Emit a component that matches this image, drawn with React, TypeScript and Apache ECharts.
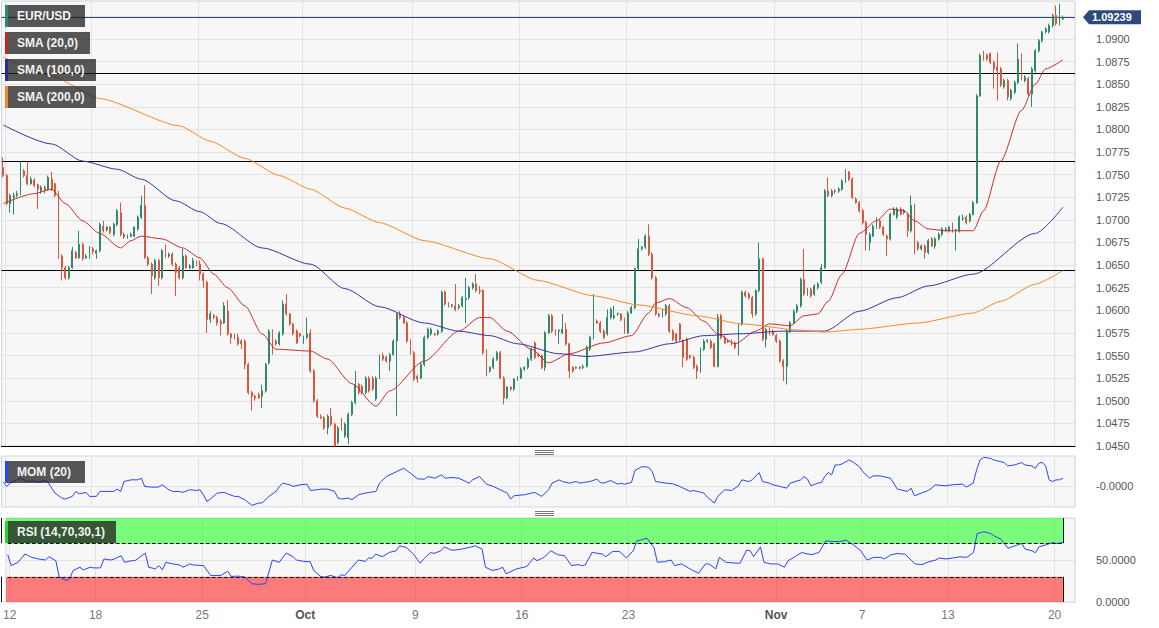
import React, { useEffect, useRef } from "react";
import * as echarts from "echarts";

// EUR/USD 4H candles: [open, close, low, high]
const eurusdOhlc: number[][] = [
  [1.0758, 1.0749, 1.0747, 1.0769], [1.0749, 1.0718, 1.0716, 1.0751], [1.0718, 1.0727, 1.0708, 1.0729], [1.0725, 1.0727, 1.0706, 1.073],
  [1.0727, 1.0729, 1.0725, 1.0732], [1.0729, 1.0754, 1.0727, 1.0764], [1.0754, 1.0749, 1.0747, 1.0756], [1.0749, 1.074, 1.0738, 1.0764],
  [1.074, 1.0745, 1.0739, 1.0748], [1.0744, 1.0738, 1.0736, 1.0746], [1.0739, 1.0734, 1.0712, 1.074], [1.0732, 1.0736, 1.0729, 1.0738],
  [1.0736, 1.0733, 1.0729, 1.0738], [1.0734, 1.0747, 1.0732, 1.0749], [1.0745, 1.0734, 1.0732, 1.0753], [1.074, 1.0727, 1.0725, 1.0741],
  [1.073, 1.0658, 1.0657, 1.0732], [1.066, 1.0647, 1.0633, 1.0662], [1.0647, 1.0636, 1.0634, 1.0649], [1.0636, 1.0647, 1.0634, 1.0649],
  [1.0647, 1.0666, 1.0646, 1.067], [1.0664, 1.0658, 1.0657, 1.0666], [1.0658, 1.0673, 1.0657, 1.0688], [1.0673, 1.0657, 1.0655, 1.0675],
  [1.0658, 1.066, 1.0657, 1.0662], [1.0658, 1.067, 1.0657, 1.0671], [1.0668, 1.0665, 1.0662, 1.067], [1.0663, 1.0666, 1.0657, 1.0667],
  [1.0666, 1.0695, 1.0664, 1.0697], [1.0693, 1.0688, 1.0686, 1.0699], [1.0689, 1.0692, 1.0687, 1.0693], [1.0692, 1.0686, 1.0684, 1.0693],
  [1.0684, 1.0695, 1.0682, 1.0697], [1.0695, 1.071, 1.0693, 1.0712], [1.0708, 1.0684, 1.0682, 1.0719], [1.0684, 1.0681, 1.0679, 1.0686],
  [1.0681, 1.0682, 1.0679, 1.0684], [1.0682, 1.0684, 1.0681, 1.0686], [1.0682, 1.0692, 1.0681, 1.0693], [1.069, 1.0703, 1.0688, 1.0705],
  [1.0703, 1.0716, 1.0701, 1.0727], [1.0716, 1.0658, 1.0657, 1.0738], [1.0658, 1.0651, 1.0649, 1.066], [1.0651, 1.0638, 1.0618, 1.0653],
  [1.0636, 1.0655, 1.0634, 1.0657], [1.0655, 1.0636, 1.0627, 1.0657], [1.0636, 1.0666, 1.0634, 1.0668], [1.0664, 1.066, 1.0658, 1.0673],
  [1.066, 1.0662, 1.0658, 1.0664], [1.0662, 1.0651, 1.0649, 1.0664], [1.0651, 1.0642, 1.0616, 1.0653], [1.0647, 1.0636, 1.0634, 1.0649],
  [1.0636, 1.066, 1.0634, 1.0668], [1.066, 1.0647, 1.0646, 1.0662], [1.0647, 1.0649, 1.0646, 1.0651], [1.0647, 1.0655, 1.0646, 1.0658],
  [1.0653, 1.0651, 1.0649, 1.0655], [1.0651, 1.064, 1.0633, 1.0655], [1.064, 1.0633, 1.0625, 1.0642], [1.0631, 1.059, 1.0575, 1.0633],
  [1.059, 1.0596, 1.0586, 1.0599], [1.0594, 1.0592, 1.059, 1.0596], [1.0592, 1.0586, 1.0583, 1.0594], [1.0588, 1.0585, 1.0572, 1.059],
  [1.0586, 1.0605, 1.0585, 1.0609], [1.0599, 1.0574, 1.0572, 1.0611], [1.0574, 1.057, 1.0563, 1.0575], [1.057, 1.0572, 1.0568, 1.0574],
  [1.057, 1.0563, 1.0561, 1.0574], [1.0566, 1.0563, 1.0557, 1.0568], [1.0566, 1.054, 1.0535, 1.0568], [1.054, 1.0509, 1.0507, 1.0542],
  [1.0509, 1.0505, 1.0489, 1.0511], [1.0505, 1.0503, 1.05, 1.0507], [1.0507, 1.0503, 1.0502, 1.0509], [1.0505, 1.0511, 1.0492, 1.0518],
  [1.0511, 1.054, 1.0509, 1.0542], [1.0542, 1.0577, 1.054, 1.0579], [1.0577, 1.0553, 1.0551, 1.0579], [1.0566, 1.0563, 1.0561, 1.0568],
  [1.0563, 1.0575, 1.0561, 1.0577], [1.0574, 1.0607, 1.0572, 1.0611], [1.0607, 1.0596, 1.0594, 1.0618], [1.0596, 1.0585, 1.0583, 1.0597],
  [1.0585, 1.0574, 1.0572, 1.0586], [1.0577, 1.0564, 1.0563, 1.0579], [1.0574, 1.0572, 1.057, 1.0575], [1.0564, 1.057, 1.0563, 1.0572],
  [1.057, 1.0574, 1.0568, 1.0592], [1.0575, 1.0533, 1.0531, 1.0579], [1.0533, 1.05, 1.0498, 1.0535], [1.05, 1.0483, 1.0481, 1.0502],
  [1.0482, 1.0481, 1.048, 1.0485], [1.0481, 1.047, 1.0468, 1.0483], [1.047, 1.0483, 1.0463, 1.0485], [1.0483, 1.0474, 1.0472, 1.0492],
  [1.0474, 1.045, 1.0449, 1.0476], [1.0454, 1.047, 1.0452, 1.0472], [1.0472, 1.0468, 1.0467, 1.0481], [1.0461, 1.0474, 1.0459, 1.0476],
  [1.0459, 1.0485, 1.0452, 1.0487], [1.0485, 1.0498, 1.0483, 1.05], [1.0498, 1.0518, 1.0496, 1.0533], [1.0518, 1.0509, 1.0507, 1.052],
  [1.0516, 1.0509, 1.0507, 1.0518], [1.0509, 1.0525, 1.0507, 1.0527], [1.0525, 1.0511, 1.0509, 1.0527], [1.0525, 1.0513, 1.0511, 1.0527],
  [1.0502, 1.0525, 1.05, 1.0527], [1.0525, 1.055, 1.0524, 1.0551], [1.055, 1.0546, 1.0544, 1.0553], [1.0548, 1.0544, 1.0542, 1.055],
  [1.0544, 1.0551, 1.0533, 1.0553], [1.0551, 1.0566, 1.055, 1.0568], [1.0566, 1.0596, 1.0483, 1.0597], [1.0596, 1.0592, 1.059, 1.0599],
  [1.0592, 1.0586, 1.0585, 1.0594], [1.0586, 1.0566, 1.0564, 1.0588], [1.0566, 1.0553, 1.0551, 1.0568], [1.0553, 1.0524, 1.0522, 1.0555],
  [1.0527, 1.0524, 1.052, 1.0529], [1.0525, 1.054, 1.0524, 1.0542], [1.054, 1.057, 1.0538, 1.0572], [1.057, 1.0579, 1.0568, 1.0581],
  [1.0574, 1.0579, 1.0572, 1.0581], [1.0574, 1.0573, 1.0572, 1.0575], [1.0574, 1.0577, 1.0572, 1.0579], [1.0577, 1.062, 1.0575, 1.0622],
  [1.062, 1.0607, 1.0605, 1.0622], [1.0607, 1.0605, 1.0603, 1.0609], [1.0605, 1.0606, 1.0603, 1.0607], [1.0605, 1.0601, 1.0599, 1.0629],
  [1.0603, 1.0605, 1.0601, 1.0607], [1.0605, 1.0614, 1.0603, 1.0616], [1.0612, 1.0613, 1.0586, 1.0636], [1.0614, 1.0625, 1.0612, 1.0627],
  [1.0625, 1.0629, 1.0623, 1.0631], [1.0629, 1.0622, 1.062, 1.064], [1.0622, 1.0621, 1.0618, 1.0627], [1.0622, 1.0553, 1.0551, 1.0623],
  [1.0555, 1.0533, 1.0527, 1.0557], [1.0533, 1.0537, 1.0531, 1.0538], [1.0537, 1.0546, 1.0535, 1.0548], [1.0546, 1.0553, 1.0544, 1.0555],
  [1.0553, 1.0525, 1.0524, 1.0555], [1.0525, 1.0503, 1.0496, 1.0527], [1.0503, 1.0515, 1.0502, 1.0516], [1.0515, 1.0513, 1.0511, 1.0516],
  [1.0513, 1.0524, 1.0511, 1.0525], [1.0524, 1.0525, 1.0522, 1.0527], [1.0525, 1.0535, 1.0524, 1.0537], [1.0535, 1.0537, 1.0533, 1.0538],
  [1.0537, 1.0546, 1.0535, 1.0548], [1.0546, 1.0557, 1.0544, 1.0559], [1.0564, 1.0548, 1.0546, 1.0566], [1.0551, 1.055, 1.0548, 1.0553],
  [1.055, 1.0537, 1.0535, 1.0551], [1.0537, 1.0575, 1.0533, 1.0577], [1.0575, 1.0594, 1.0574, 1.0596], [1.0594, 1.0577, 1.0575, 1.0596],
  [1.0577, 1.0574, 1.0572, 1.0579], [1.0577, 1.0578, 1.0563, 1.0579], [1.0575, 1.0579, 1.0574, 1.0596], [1.0579, 1.0563, 1.0561, 1.0586],
  [1.0563, 1.0533, 1.0525, 1.0564], [1.0537, 1.0533, 1.0531, 1.0538], [1.0537, 1.0536, 1.0535, 1.0538], [1.0536, 1.0537, 1.0535, 1.0538],
  [1.0537, 1.0538, 1.0535, 1.054], [1.0538, 1.0559, 1.0537, 1.0561], [1.0557, 1.057, 1.0555, 1.0572], [1.057, 1.0588, 1.0568, 1.0618],
  [1.0588, 1.0586, 1.0585, 1.059], [1.0586, 1.0577, 1.0575, 1.0588], [1.0577, 1.057, 1.0568, 1.0579], [1.0574, 1.0592, 1.0572, 1.0601],
  [1.0592, 1.0601, 1.059, 1.0603], [1.0592, 1.0594, 1.059, 1.0605], [1.0596, 1.0597, 1.0594, 1.0597], [1.0596, 1.059, 1.0588, 1.0597],
  [1.059, 1.0575, 1.0574, 1.0592], [1.0575, 1.0597, 1.0574, 1.0599], [1.0597, 1.0603, 1.0596, 1.0605], [1.0603, 1.0646, 1.0601, 1.0647],
  [1.0646, 1.0668, 1.0644, 1.0679], [1.0668, 1.067, 1.0666, 1.0671], [1.067, 1.0682, 1.0668, 1.0684], [1.0682, 1.0662, 1.066, 1.0695],
  [1.0662, 1.0636, 1.0634, 1.0664], [1.0636, 1.0596, 1.0594, 1.0638], [1.0596, 1.0594, 1.0592, 1.0597], [1.0594, 1.0599, 1.0592, 1.0601],
  [1.0596, 1.0605, 1.0594, 1.0607], [1.0605, 1.0577, 1.0575, 1.0607], [1.0577, 1.0568, 1.0566, 1.0579], [1.0574, 1.0566, 1.0564, 1.0575],
  [1.0585, 1.0568, 1.0566, 1.0586], [1.0566, 1.0548, 1.0537, 1.0568], [1.0568, 1.0546, 1.0544, 1.057], [1.055, 1.0548, 1.0546, 1.0551],
  [1.0548, 1.0537, 1.0535, 1.055], [1.0538, 1.0533, 1.0524, 1.054], [1.0533, 1.0557, 1.0531, 1.0559], [1.0557, 1.0566, 1.0555, 1.0568],
  [1.0566, 1.0567, 1.0564, 1.0568], [1.0566, 1.0559, 1.0557, 1.0568], [1.0563, 1.0538, 1.0537, 1.0564], [1.0538, 1.0592, 1.0537, 1.0596],
  [1.0594, 1.057, 1.0568, 1.0596], [1.057, 1.0564, 1.0563, 1.0572], [1.0566, 1.0565, 1.0564, 1.0568], [1.0566, 1.0563, 1.0561, 1.0568],
  [1.0564, 1.0559, 1.0557, 1.0566], [1.0557, 1.0585, 1.055, 1.0586], [1.0585, 1.062, 1.0583, 1.0622], [1.062, 1.0616, 1.0614, 1.0622],
  [1.0618, 1.0614, 1.0612, 1.062], [1.0614, 1.0596, 1.0592, 1.0616], [1.0596, 1.0622, 1.0594, 1.0623], [1.0622, 1.0657, 1.062, 1.0675],
  [1.0657, 1.0568, 1.0566, 1.0658], [1.0568, 1.0579, 1.0559, 1.0581], [1.0579, 1.0574, 1.0572, 1.0581], [1.0577, 1.0573, 1.0572, 1.0579],
  [1.0572, 1.0566, 1.0564, 1.0574], [1.0566, 1.0544, 1.0542, 1.0568], [1.0544, 1.0538, 1.0522, 1.0546], [1.0538, 1.0577, 1.0518, 1.0579],
  [1.0577, 1.0586, 1.0575, 1.0588], [1.0586, 1.0599, 1.0585, 1.0601], [1.0599, 1.0605, 1.0597, 1.0607], [1.0605, 1.0634, 1.0603, 1.0636],
  [1.0634, 1.0618, 1.0616, 1.0668], [1.0618, 1.0623, 1.0616, 1.0625], [1.0623, 1.0616, 1.0614, 1.0625], [1.0618, 1.0627, 1.0616, 1.0629],
  [1.0625, 1.0629, 1.0623, 1.0631], [1.0631, 1.0647, 1.0629, 1.0651], [1.0647, 1.0732, 1.0646, 1.0734], [1.0732, 1.0727, 1.0725, 1.0747],
  [1.0727, 1.0732, 1.0725, 1.0734], [1.0732, 1.0731, 1.0729, 1.0734], [1.0732, 1.0734, 1.073, 1.0736], [1.0734, 1.0743, 1.0732, 1.0745],
  [1.0743, 1.0753, 1.0741, 1.0756], [1.0753, 1.0745, 1.0743, 1.0754], [1.0745, 1.0725, 1.0723, 1.0747], [1.0723, 1.0719, 1.0718, 1.0725],
  [1.0719, 1.071, 1.0708, 1.0721], [1.071, 1.0697, 1.0695, 1.0712], [1.0697, 1.0684, 1.0666, 1.0699], [1.0675, 1.0684, 1.0666, 1.0686],
  [1.0682, 1.0693, 1.0681, 1.0695], [1.0692, 1.0701, 1.069, 1.0703], [1.0699, 1.0692, 1.069, 1.0701], [1.0692, 1.0684, 1.0682, 1.0693],
  [1.0682, 1.0679, 1.066, 1.0684], [1.0679, 1.0706, 1.0677, 1.0708], [1.0706, 1.0712, 1.0705, 1.0714], [1.0703, 1.0712, 1.0701, 1.0714],
  [1.0712, 1.0706, 1.0705, 1.0714], [1.0708, 1.071, 1.0706, 1.0712], [1.0706, 1.0688, 1.0681, 1.0708], [1.0688, 1.0716, 1.0686, 1.0727],
  [1.0716, 1.0668, 1.0662, 1.0718], [1.0675, 1.0668, 1.0666, 1.0677], [1.0668, 1.0671, 1.0666, 1.0673], [1.0671, 1.0664, 1.0657, 1.0673],
  [1.0664, 1.0677, 1.0662, 1.0679], [1.0679, 1.0671, 1.067, 1.0681], [1.0671, 1.0679, 1.0668, 1.0681], [1.0679, 1.0684, 1.0677, 1.0686],
  [1.0684, 1.069, 1.0682, 1.0692], [1.0689, 1.069, 1.0687, 1.0692], [1.0688, 1.0692, 1.0686, 1.0693], [1.0692, 1.0688, 1.0686, 1.0697],
  [1.0688, 1.0689, 1.0666, 1.069], [1.0688, 1.0703, 1.0686, 1.0705], [1.0701, 1.0702, 1.0699, 1.0706], [1.0703, 1.0697, 1.0695, 1.0705],
  [1.0699, 1.0706, 1.0697, 1.0708], [1.0706, 1.0719, 1.0705, 1.0721], [1.0719, 1.0837, 1.0718, 1.0839], [1.0837, 1.0882, 1.0836, 1.0884],
  [1.0882, 1.0878, 1.0876, 1.0887], [1.0882, 1.0878, 1.0876, 1.0884], [1.0884, 1.0874, 1.0872, 1.0885], [1.0874, 1.0867, 1.0845, 1.0876],
  [1.0869, 1.0865, 1.0832, 1.0885], [1.0867, 1.0849, 1.0847, 1.0869], [1.0847, 1.0854, 1.0845, 1.0856], [1.0854, 1.0836, 1.0832, 1.0856],
  [1.0834, 1.0843, 1.0832, 1.0845], [1.0841, 1.0852, 1.0839, 1.0854], [1.0852, 1.0878, 1.085, 1.0895], [1.0878, 1.0856, 1.0854, 1.0884],
  [1.0854, 1.0858, 1.0852, 1.086], [1.0856, 1.0839, 1.0837, 1.0858], [1.0839, 1.0867, 1.0825, 1.0869], [1.0865, 1.0887, 1.0863, 1.0889],
  [1.0887, 1.0898, 1.0885, 1.09], [1.0898, 1.0908, 1.0896, 1.0909], [1.0908, 1.0911, 1.0906, 1.0913], [1.0908, 1.0915, 1.0906, 1.0917],
  [1.0915, 1.0926, 1.0913, 1.0928], [1.0926, 1.0917, 1.0915, 1.0937], [1.0917, 1.0922, 1.0915, 1.0939], [1.0922, 1.09239, 1.0921, 1.0926],
];

// [candle index, value]
const sma20: number[][] = [
  [0, 1.0718], [9, 1.0729], [14, 1.0734], [18, 1.0718], [23, 1.0699], [28, 1.0685], [34, 1.0669], [37, 1.0677], [40, 1.0682],
  [46, 1.0679], [52, 1.0669], [57, 1.0658], [61, 1.064], [65, 1.0625], [70, 1.0605], [75, 1.0574], [79, 1.0557], [89, 1.0555],
  [94, 1.0546], [101, 1.0519], [108, 1.0494], [112, 1.0511], [122, 1.0544], [132, 1.0577], [138, 1.0592], [141, 1.0592],
  [146, 1.0577], [153, 1.0557], [158, 1.0542], [164, 1.0552], [174, 1.0564], [182, 1.0572], [187, 1.0597], [189, 1.0608],
  [193, 1.0613], [198, 1.0603], [203, 1.0588], [207, 1.0574], [212, 1.0563], [218, 1.0577], [222, 1.0585], [228, 1.0583],
  [232, 1.0594], [236, 1.0596], [239, 1.061], [243, 1.064], [248, 1.0685], [253, 1.0699], [257, 1.0712], [261, 1.071],
  [264, 1.0699], [268, 1.069], [273, 1.0688], [281, 1.0688], [284, 1.071], [289, 1.0765], [295, 1.0821], [299, 1.085],
  [302, 1.0867], [307, 1.0877],
];
const sma100: number[][] = [
  [0, 1.0805], [14, 1.0784], [23, 1.0765], [33, 1.0756], [40, 1.0745], [50, 1.0721], [57, 1.0709], [63, 1.0696], [75, 1.0669],
  [89, 1.0651], [99, 1.0624], [109, 1.0604], [122, 1.0586], [132, 1.0577], [141, 1.0572], [149, 1.0563], [161, 1.0552],
  [169, 1.0549], [183, 1.0554], [193, 1.0563], [203, 1.0572], [213, 1.0574], [226, 1.0577], [238, 1.0577], [248, 1.0599],
  [259, 1.0614], [268, 1.0627], [281, 1.064], [299, 1.0685], [307, 1.0714],
];
const sma200: number[][] = [
  [0, 1.088], [14, 1.0859], [28, 1.0834], [51, 1.0804], [60, 1.0787], [70, 1.0768], [80, 1.0749], [89, 1.0734], [99, 1.0713],
  [109, 1.0697], [122, 1.0677], [141, 1.0657], [155, 1.0633], [171, 1.0616], [184, 1.0606], [201, 1.0594], [214, 1.0585],
  [231, 1.0578], [238, 1.0576], [248, 1.0579], [265, 1.0586], [281, 1.0597], [289, 1.061], [299, 1.0629], [307, 1.0644],
];
const momentum20: number[][] = [
  [0, 0.0022], [1, -0.0004], [2, 0.0016], [4, 0.0036], [5, 0.0046], [7, 0.0026], [9, 0.003], [10, 0.0022], [12, 0.0032], [13, 0.002],
  [15, -0.0044], [17, -0.0074], [18, -0.008], [20, -0.0064], [21, -0.0034], [22, -0.0048], [24, -0.004], [25, -0.0064], [27, -0.0064],
  [28, -0.0034], [30, -0.0034], [32, -0.0034], [33, -0.002], [34, -0.0034], [35, 0.0026], [37, 0.0036], [39, 0.0036], [40, 0.0046],
  [41, -0.0004], [43, -0.0008], [45, -0.0008], [46, 0.0006], [48, -0.0024], [49, -0.0034], [51, -0.0034], [52, -0.004], [54, -0.0024],
  [56, -0.0028], [57, -0.0024], [58, -0.0054], [59, -0.0094], [60, -0.008], [62, -0.0044], [64, -0.004], [65, -0.0048], [67, -0.0064],
  [68, -0.0064], [70, -0.0084], [72, -0.0118], [74, -0.0104], [75, -0.0104], [77, -0.0064], [79, -0.0034], [80, -0.0004], [81, 0.0016],
  [83, 0.0006], [84, -0.0004], [86, 0.0006], [88, 0.001], [89, -0.0028], [91, -0.0024], [92, -0.002], [94, -0.002], [96, -0.0034],
  [97, -0.0074], [98, -0.008], [100, -0.0074], [101, -0.0084], [103, -0.0054], [104, -0.0048], [106, -0.004], [108, -0.0034],
  [109, 0.0016], [111, 0.0056], [114, 0.0086], [116, 0.0106], [118, 0.0076], [120, 0.0042], [122, 0.004], [123, 0.0056], [125, 0.0046],
  [127, 0.0066], [128, 0.0046], [130, 0.005], [132, 0.0046], [135, 0.0016], [136, 0.0036], [138, 0.0056], [140, 0.001], [142, -0.0004],
  [144, -0.0024], [146, -0.0044], [147, -0.008], [148, -0.006], [151, -0.0054], [153, -0.0044], [154, -0.004], [156, -0.0064],
  [158, -0.0024], [159, 0.0016], [161, 0.0036], [162, 0.0026], [164, 0.0016], [166, 0.0026], [167, 0.0016], [168, 0.002], [170, 0.0026],
  [172, 0.004], [173, 0.002], [174, 0.0016], [176, 0.0032], [178, 0.001], [179, 0.0016], [180, 0.001], [182, 0.002], [183, 0.0092],
  [185, 0.0116], [187, 0.0112], [188, 0.0086], [189, 0.0026], [192, 0.0016], [194, 0.0012], [196, -0.0004], [199, -0.0034],
  [200, -0.0028], [203, -0.0044], [204, -0.0068], [206, -0.0104], [207, -0.0064], [209, -0.0024], [211, -0.0028], [213, 0],
  [214, 0.0036], [216, 0.0026], [217, 0.0036], [219, 0.008], [220, 0.0026], [222, 0.0016], [223, 0.0006], [225, -0.0004],
  [227, -0.0014], [228, 0.0016], [231, 0.0036], [232, 0.0056], [233, 0.004], [234, 0], [236, 0.0016], [237, 0.002], [238, 0.0056],
  [239, 0.008], [240, 0.0066], [241, 0.0126], [242, 0.0126], [243, 0.0132], [245, 0.0156], [246, 0.0146], [248, 0.0116], [249, 0.0086],
  [251, 0.0046], [252, 0.006], [254, 0.006], [257, 0.0046], [258, 0.0016], [259, -0.002], [260, -0.0024], [262, -0.0034],
  [263, -0.0014], [264, -0.006], [266, -0.0044], [268, -0.0028], [269, -0.0014], [270, 0.0006], [273, 0], [275, 0.0006], [278, 0.001],
  [279, -0.0008], [281, 0.0016], [282, 0.0096], [283, 0.0156], [284, 0.0172], [286, 0.0166], [287, 0.0156], [290, 0.014], [291, 0.012],
  [293, 0.0126], [295, 0.014], [296, 0.0126], [298, 0.012], [299, 0.0106], [300, 0.0136], [301, 0.0142], [302, 0.012], [303, 0.0036],
  [304, 0.0026], [305, 0.0036], [306, 0.0036], [307, 0.0046],
];
const rsi14: number[][] = [
  [0, 56.3], [1, 43.3], [3, 47.3], [5, 57.1], [7, 53.1], [9, 51.2], [11, 50], [12, 53.9], [14, 49.2], [15, 29.6], [17, 25.7], [18, 27.6],
  [19, 37.5], [21, 41.4], [22, 38.2], [24, 41.4], [25, 40.6], [27, 40.6], [28, 51.2], [30, 50], [31, 51.2], [33, 55.1], [34, 47.3],
  [36, 49.2], [37, 49.2], [40, 58.2], [41, 41.4], [43, 39.4], [44, 43.3], [45, 38.2], [46, 47.3], [48, 45.3], [50, 44.1], [51, 41.4],
  [53, 45.3], [54, 44.1], [57, 43.3], [59, 31.6], [60, 31.6], [62, 31.6], [64, 36.7], [65, 30.4], [67, 30.8], [68, 30.4], [69, 29.6],
  [71, 21.8], [73, 21], [75, 21.8], [77, 50], [79, 47.3], [81, 58.2], [83, 53.9], [84, 50], [86, 48.4], [88, 48], [89, 37.5], [91, 30.4],
  [92, 29.6], [94, 31.6], [96, 28.8], [97, 32.4], [98, 31.6], [100, 40.6], [102, 50], [104, 48.4], [105, 52.4], [106, 52], [107, 57.1],
  [109, 53.9], [111, 59], [113, 61], [114, 66.9], [116, 64.9], [118, 57.1], [120, 46.1], [121, 51.2], [123, 59], [124, 57.8], [126, 61],
  [127, 65.7], [129, 61.8], [130, 61.8], [132, 62.9], [135, 65.7], [136, 66.9], [138, 62.9], [139, 41.4], [141, 37.5], [143, 39.4],
  [144, 41.4], [145, 33.5], [147, 37.5], [148, 39.4], [151, 42.2], [153, 52.4], [154, 49.2], [156, 53.1], [158, 61], [160, 56.3],
  [162, 55.1], [164, 43.3], [166, 44.5], [167, 43.3], [168, 44.1], [170, 59], [173, 57.1], [174, 53.9], [176, 60.2], [178, 60.2],
  [180, 52.4], [182, 61], [183, 72.7], [185, 74.7], [186, 75.9], [188, 64.9], [189, 47.3], [191, 48], [193, 50], [194, 43.3], [196, 45.3],
  [198, 40.6], [199, 38.2], [201, 34.3], [203, 45.3], [204, 45.3], [206, 39.4], [207, 53.1], [209, 47.3], [211, 46.5], [213, 46.1],
  [215, 61.8], [216, 61], [217, 53.9], [219, 65.7], [220, 47.3], [222, 45.3], [224, 45.3], [226, 41.4], [227, 49.2], [229, 53.9],
  [231, 59], [232, 57.8], [234, 56.3], [236, 59], [238, 72.7], [240, 72], [242, 72], [244, 73.5], [246, 68], [248, 61.8], [250, 50],
  [252, 53.1], [254, 53.1], [255, 51.2], [257, 56.3], [259, 57.8], [260, 57.1], [261, 57.1], [263, 49.2], [264, 45.3], [266, 44.5],
  [268, 48], [270, 50], [271, 52.4], [273, 51.2], [275, 52.4], [277, 53.9], [279, 53.1], [281, 59], [282, 81.4], [284, 83.7], [286, 81.4],
  [287, 78.6], [289, 74.7], [291, 64.1], [293, 66.9], [295, 69.6], [296, 62.9], [298, 61], [299, 58.6], [300, 65.7], [302, 68],
  [304, 70.8], [305, 69.6], [307, 70.8],
];

const dayTickIndex = [1, 26, 57, 87, 119, 150, 181, 224, 249, 274, 305];
const dayTickLabels = ["12", "18", "25", "Oct", "9", "16", "23", "Nov", "7", "13", "20"];
const levelLines = [1.08626, 1.07653, 1.06447];
const lastPrice = 1.09239;
const rsiBands = { overbought: 70, oversold: 30 };
const categoryCount = 311;
const legendTexts = ["EUR/USD", "SMA (20,0)", "SMA (100,0)", "SMA (200,0)"];

export default function App() {
  const ref = useRef<HTMLDivElement>(null);
  useEffect(() => {
    const chart = echarts.init(ref.current as HTMLDivElement, null, { renderer: "svg" });
    const cats = Array.from({ length: categoryCount }, (_, i) => String(i));
    const tickMap = new Map<number, string>(dayTickIndex.map((k, i) => [k, dayTickLabels[i]]));
    const showTick = (i: number) => tickMap.has(i);
    const font = 'Arial, "Liberation Sans", sans-serif';
    const splitColor = "#e3e3e3";
    const lastIdx = eurusdOhlc.length - 1;
    const gridBase = { left: 1.5, width: 1073.5, show: true, backgroundColor: "#f7f7f7", borderColor: "#cdd5e4", borderWidth: 1 };
    const makeX = (gridIndex: number, labels: boolean) => ({
      type: "category",
      data: cats,
      gridIndex,
      boundaryGap: true,
      axisTick: { show: false },
      axisLine: gridIndex === 0 ? { show: true, lineStyle: { color: "#000", width: 1 } } : { show: false },
      axisLabel: labels
        ? {
            show: true,
            interval: (i: number) => showTick(i),
            formatter: (v: string) => {
              const l = tickMap.get(Number(v));
              if (!l) return "";
              return /^[A-Z]/.test(l) ? `{m|${l}}` : l;
            },
            color: "#777",
            fontSize: 12,
            fontFamily: font,
            margin: 7,
            padding: [0, 3, 0, 0],
            rich: { m: { fontWeight: "bold", color: "#555", fontSize: 12, fontFamily: font } },
          }
        : { show: false },
      splitLine: { show: true, interval: (i: number) => showTick(i), lineStyle: { color: splitColor, width: 1 } },
    });
    const labelStyle = { color: "#555", fontSize: 11, fontFamily: font, margin: 21 };
    const green = "#2f8a6b";
    const red = "#d9563f";
    const bandEdge = { color: "#111", width: 1 };

    chart.setOption({
      animation: false,
      backgroundColor: "#ffffff",
      grid: [
        { ...gridBase, top: 1, height: 445 },
        { ...gridBase, top: 456, height: 51 },
        { ...gridBase, top: 518, height: 84 },
      ],
      xAxis: [makeX(0, false), makeX(1, false), makeX(2, true)],
      yAxis: [
        {
          type: "value", gridIndex: 0, position: "right", min: 1.045, max: 1.0942, interval: 0.0025,
          axisLine: { show: false }, axisTick: { show: false },
          axisLabel: { ...labelStyle, formatter: (v: number) => (v > 1.091 ? "" : v.toFixed(4)) },
          splitLine: { show: true, lineStyle: { color: splitColor } },
        },
        {
          type: "value", gridIndex: 1, position: "right", min: -0.0128, max: 0.018, interval: 0.0128,
          axisLine: { show: false }, axisTick: { show: false },
          axisLabel: { ...labelStyle, formatter: (v: number) => (Math.abs(v) < 1e-9 ? "-0.0000" : "") },
          splitLine: { show: false },
        },
        {
          type: "value", gridIndex: 2, position: "right", min: 0, max: 100, interval: 50,
          axisLine: { show: false }, axisTick: { show: false },
          axisLabel: { ...labelStyle, formatter: (v: number) => (v === 50 ? "50.0000" : v === 0 ? "0.0000" : "") },
          splitLine: { show: true, lineStyle: { color: splitColor } },
        },
      ],
      series: [
        {
          type: "candlestick", name: "EUR/USD", xAxisIndex: 0, yAxisIndex: 0, data: eurusdOhlc, barWidth: 1.4,
          itemStyle: { color: green, color0: red, borderColor: green, borderColor0: red, borderWidth: 1 },
          markLine: {
            silent: true, symbol: ["none", "none"], z: 1, precision: 5, label: { show: false },
            lineStyle: { color: "#000", type: "solid", width: 1 },
            data: [
              ...levelLines.map((v) => ({ yAxis: v })),
              { yAxis: lastPrice, lineStyle: { color: "#2d4a7a", type: "solid", width: 1 } },
            ],
          },
        },
        { type: "line", name: "SMA20", data: sma20, xAxisIndex: 0, yAxisIndex: 0, showSymbol: false, smooth: 0.25, smoothMonotone: "x", lineStyle: { color: "#c62f2c", width: 1 } },
        { type: "line", name: "SMA100", data: sma100, xAxisIndex: 0, yAxisIndex: 0, showSymbol: false, smooth: 0.25, smoothMonotone: "x", lineStyle: { color: "#3a33a3", width: 1 } },
        { type: "line", name: "SMA200", data: sma200, xAxisIndex: 0, yAxisIndex: 0, showSymbol: false, smooth: 0.2, smoothMonotone: "x", lineStyle: { color: "#f5892b", width: 1 } },
        {
          type: "line", name: "MOM", data: momentum20, xAxisIndex: 1, yAxisIndex: 1, showSymbol: false,
          lineStyle: { color: "#2b45f5", width: 1 },
          markLine: {
            silent: true, symbol: ["none", "none"], z: 1, label: { show: false },
            lineStyle: { color: splitColor, type: "solid", width: 1 }, data: [{ yAxis: 0 }],
          },
        },
        {
          type: "line", name: "RSI", data: rsi14, xAxisIndex: 2, yAxisIndex: 2, showSymbol: false,
          lineStyle: { color: "#2b45f5", width: 1 },
          markArea: {
            silent: true,
            data: [
              [{ yAxis: rsiBands.overbought, itemStyle: { color: "rgba(0,255,0,0.5)" } }, { xAxis: lastIdx, yAxis: 100 }],
              [{ yAxis: 0, itemStyle: { color: "rgba(255,0,0,0.5)" } }, { xAxis: lastIdx, yAxis: rsiBands.oversold }],
            ],
          },
          markLine: {
            silent: true, symbol: ["none", "none"], label: { show: false },
            lineStyle: { color: "#111", type: "dashed", width: 1 },
            data: [
              [{ xAxis: 0, yAxis: rsiBands.overbought }, { xAxis: lastIdx, yAxis: rsiBands.overbought }],
              [{ xAxis: 0, yAxis: rsiBands.oversold }, { xAxis: lastIdx, yAxis: rsiBands.oversold }],
              [{ xAxis: lastIdx, yAxis: 100, lineStyle: { ...bandEdge, type: "solid" } }, { xAxis: lastIdx, yAxis: rsiBands.overbought }],
              [{ xAxis: lastIdx, yAxis: rsiBands.oversold, lineStyle: { ...bandEdge, type: "solid" } }, { xAxis: lastIdx, yAxis: 0 }],
            ],
          },
        },
      ],
    });

    const yTag = chart.convertToPixel({ yAxisIndex: 0 }, lastPrice) as number;
    const rsiY = (v: number) => chart.convertToPixel({ yAxisIndex: 2 }, v) as number;
    const legendBox = (top: number, width: number, stripe: string, text: string) => [
      { type: "rect", shape: { x: 5, y: top, width, height: 22 }, style: { fill: "rgba(30,30,30,0.74)" }, z: 50 },
      { type: "rect", shape: { x: 5, y: top, width: 3, height: 22 }, style: { fill: stripe }, z: 51 },
      {
        type: "text", x: 17, y: top + 11, z: 52,
        style: { text, fill: "#f2f2f2", font: `bold 12px ${font}`, verticalAlign: "middle", textVerticalAlign: "middle" },
      },
    ];
    const handle = (y: number) =>
      [0, 2, 4].map((d) => ({
        type: "line", shape: { x1: 535, y1: y + d + 0.5, x2: 554, y2: y + d + 0.5 }, style: { stroke: "#777", lineWidth: 1 }, z: 50,
      }));
    const leftEdge = (v1: number, v2: number) => ({
      type: "line", shape: { x1: 1.5, y1: rsiY(v1), x2: 1.5, y2: rsiY(v2) }, style: { stroke: "#111", lineWidth: 1 }, z: 40,
    });
    chart.setOption({
      graphic: [
        leftEdge(100, rsiBands.overbought),
        leftEdge(rsiBands.oversold, 0),
        ...legendBox(5, 80, green, legendTexts[0]),
        ...legendBox(32, 85, "#c0282d", legendTexts[1]),
        ...legendBox(59, 91, "#2d2a9a", legendTexts[2]),
        ...legendBox(86, 91, "#f0892b", legendTexts[3]),
        ...legendBox(461, 80, "#2347ff", "MOM (20)"),
        ...legendBox(521, 111, "#22d822", "RSI (14,70,30,1)"),
        ...handle(450),
        ...handle(511),
        { type: "polygon", shape: { points: [[1083, yTag], [1089, yTag - 7], [1089, yTag + 7]] }, style: { fill: "#2d4a7a" }, z: 50 },
        { type: "rect", shape: { x: 1089, y: yTag - 7, width: 52, height: 14 }, style: { fill: "#2d4a7a" }, z: 50 },
        {
          type: "text", x: 1092, y: yTag, z: 51,
          style: { text: lastPrice.toFixed(5), fill: "#ffffff", font: `bold 11px ${font}`, verticalAlign: "middle", textVerticalAlign: "middle" },
        },
      ],
    });

    return () => chart.dispose();
  }, []);

  return <div ref={ref} style={{ position: "absolute", left: 0, top: 0, width: 1159, height: 628, background: "#fff" }} />;
}
